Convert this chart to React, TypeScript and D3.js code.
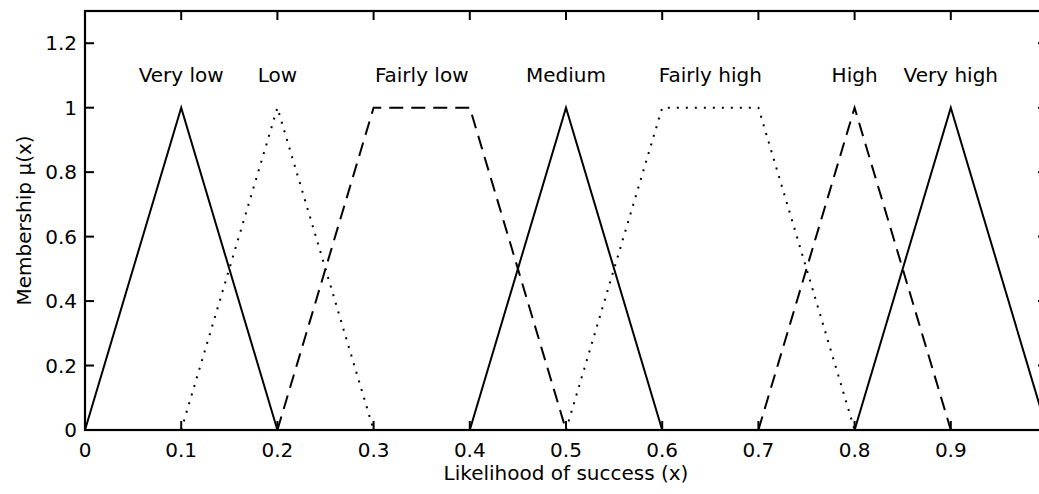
import React from "react";
import * as d3 from "d3";

// Fuzzy membership sets over "likelihood of success"
const setNames = ["Very low", "Low", "Fairly low", "Medium", "Fairly high", "High", "Very high"];
const setX = [
  [0, 0.1, 0.2],
  [0.1, 0.2, 0.3],
  [0.2, 0.3, 0.4, 0.5],
  [0.4, 0.5, 0.6],
  [0.5, 0.6, 0.7, 0.8],
  [0.7, 0.8, 0.9],
  [0.8, 0.9, 1.0],
];
const setMu = [
  [0, 1, 0],
  [0, 1, 0],
  [0, 1, 1, 0],
  [0, 1, 0],
  [0, 1, 1, 0],
  [0, 1, 0],
  [0, 1, 0],
];
const xTicks = [0, 0.1, 0.2, 0.3, 0.4, 0.5, 0.6, 0.7, 0.8, 0.9];
const xTickLabels = ["0", "0.1", "0.2", "0.3", "0.4", "0.5", "0.6", "0.7", "0.8", "0.9"];
const yTicks = [0, 0.2, 0.4, 0.6, 0.8, 1.0, 1.2];
const yTickLabels = ["0", "0.2", "0.4", "0.6", "0.8", "1", "1.2"];
const labelMu = 1.08;

const W = 1039;
const H = 494;
const left = 85;
const right = 1047;
const top = 11;
const bottom = 430;

const FONT = "'DejaVu Sans', sans-serif";
const lineStyles = ["solid", "dotted", "dashed", "solid", "dotted", "dashed", "solid"];
const dashFor = (s: string) => (s === "dotted" ? "2 7" : s === "dashed" ? "14 8" : undefined);

export default function App() {
  const x = d3.scaleLinear().domain([0, 1]).range([left, right]);
  const y = d3.scaleLinear().domain([0, 1.3]).range([bottom, top]);
  const line = d3
    .line<[number, number]>()
    .x((d) => x(d[0]))
    .y((d) => y(d[1]));
  const tick = 9;

  return (
    <svg
      width={W}
      height={H}
      style={{ position: "absolute", left: 0, top: 0, background: "#fff" }}
      fontFamily={FONT}
    >
      <rect x={0} y={0} width={W} height={H} fill="#fff" />
      {/* membership functions */}
      {setX.map((xs, i) => {
        const pts: [number, number][] = xs.map((v, j) => [v, setMu[i][j]]);
        return (
          <path
            key={setNames[i]}
            d={line(pts) || ""}
            fill="none"
            stroke="#000"
            strokeWidth={2}
            strokeDasharray={dashFor(lineStyles[i])}
          />
        );
      })}
      {/* set names above each peak */}
      {setNames.map((name, i) => {
        const peaks = setX[i].filter((_, j) => setMu[i][j] === 1);
        const cx = d3.mean(peaks) as number;
        return (
          <text key={name} x={x(cx)} y={y(labelMu)} textAnchor="middle" fontSize={20} fill="#000">
            {name}
          </text>
        );
      })}
      {/* axes box */}
      <rect x={left} y={top} width={right - left} height={bottom - top} fill="none" stroke="#000" strokeWidth={2.2} />
      {/* x ticks */}
      {xTicks.map((t, i) => (
        <g key={"x" + t}>
          <line x1={x(t)} x2={x(t)} y1={bottom} y2={bottom - tick} stroke="#000" strokeWidth={2} />
          <line x1={x(t)} x2={x(t)} y1={top} y2={top + tick} stroke="#000" strokeWidth={2} />
          <text x={x(t)} y={bottom + 27} textAnchor="middle" fontSize={20} fill="#000">
            {xTickLabels[i]}
          </text>
        </g>
      ))}
      {/* y ticks */}
      {yTicks.map((t, i) => (
        <g key={"y" + t}>
          <line x1={left} x2={left + tick} y1={y(t)} y2={y(t)} stroke="#000" strokeWidth={2} />
          <line x1={right} x2={right - tick} y1={y(t)} y2={y(t)} stroke="#000" strokeWidth={2} />
          <text x={left - 8} y={y(t)} dy="0.36em" textAnchor="end" fontSize={20} fill="#000">
            {yTickLabels[i]}
          </text>
        </g>
      ))}
      <text x={(left + right) / 2} y={480} textAnchor="middle" fontSize={20} fill="#000">
        Likelihood of success (x)
      </text>
      <text
        transform={`translate(31, ${(top + bottom) / 2}) rotate(-90)`}
        textAnchor="middle"
        fontSize={20}
        fill="#000"
      >
        Membership μ(x)
      </text>
    </svg>
  );
}
